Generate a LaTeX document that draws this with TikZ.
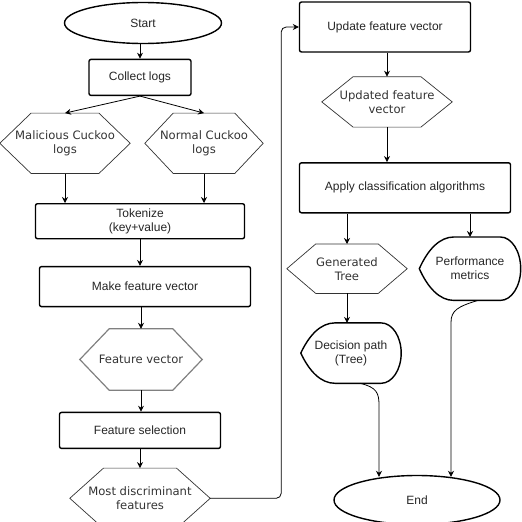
\documentclass[tikz,border=0pt]{standalone}
\usepackage{fontspec}
\setmainfont{Liberation Sans}
\newfontfamily\dejavu{DejaVu Sans}
\usetikzlibrary{shapes.geometric, arrows.meta, positioning, calc}
\tikzset{
    proc/.style={rectangle, draw, line width=1.4pt, rounded corners=2pt, fill=white, inner sep=0pt, align=center, text=black!85, font=\fontsize{12}{14}\selectfont},
    term/.style={ellipse, draw, line width=1.4pt, inner sep=0pt, text=black!85, font=\fontsize{12}{14}\selectfont},
    hexa/.style={rectangle, inner sep=0pt, align=center, text=black!80, font=\dejavu\fontsize{11.6}{14}\selectfont},
    disp/.style={rectangle, inner sep=0pt, align=center, text=black!85, font=\fontsize{12}{14}\selectfont},
    hexline/.style={draw=black!80, line width=0.7pt},
    displine/.style={draw, line width=1.4pt},
    arr/.style={-{Stealth[length=6pt, width=6pt]}, line width=0.8pt},
}
\newcommand{\hexshape}[2][]{\draw[hexline, #1] (#2.west) -- ($(#2.north west)!.24!(#2.north east)$) -- ($(#2.north west)!.76!(#2.north east)$) -- (#2.east) -- ($(#2.south west)!.76!(#2.south east)$) -- ($(#2.south west)!.24!(#2.south east)$) -- cycle;}
\newcommand{\dispshape}[1]{%
  \coordinate (#1-ta) at ($(#1.north west)!.14!(#1.north east)$);
  \coordinate (#1-ba) at ($(#1.south west)!.14!(#1.south east)$);
  \draw[displine] (#1.west) .. controls ($(#1.west)!.6!(#1-ta)$) and ($(#1.north west)!.2!(#1.north east)$) .. ($(#1.north west)!.34!(#1.north east)$)
    -- ($(#1.north west)!.8!(#1.north east)$) .. controls ($(#1.north west)!.91!(#1.north east)$) and ($(#1.north east)!.45!(#1.east)$) .. (#1.east)
    .. controls ($(#1.south east)!.45!(#1.east)$) and ($(#1.south west)!.91!(#1.south east)$) .. ($(#1.south west)!.8!(#1.south east)$)
    -- ($(#1.south west)!.34!(#1.south east)$) .. controls ($(#1.south west)!.2!(#1.south east)$) and ($(#1.west)!.6!(#1-ba)$) .. (#1.west) -- cycle;}

\begin{document}
\begin{tikzpicture}[x=1pt, y=1pt]
\useasboundingbox (0,0) rectangle (522,-522);

% Left column
\node[term, minimum width=157pt, minimum height=41pt] (start) at (143,-23) {Start};
\node[proc, minimum width=102pt, minimum height=36pt, below=14.5pt of start, xshift=-3pt] (collect) {Collect logs};
\node[hexa, minimum width=130pt, minimum height=60pt, below=17pt of collect, xshift=-75pt] (mal) {Malicious Cuckoo\\logs};
\node[hexa, minimum width=118pt, minimum height=60pt, below=17pt of collect, xshift=64pt] (norm) {Normal Cuckoo\\logs};
\node[proc, minimum width=209pt, minimum height=35pt, below=29.5pt of mal, xshift=75pt] (tok) {Tokenize\\(key+value)};
\node[proc, minimum width=211pt, minimum height=40pt, below=26.5pt of tok, xshift=5pt] (make) {Make feature vector};
\node[hexa, minimum width=122pt, minimum height=61pt, below=21.5pt of make, xshift=-4pt] (fv) {Feature vector};
\node[proc, minimum width=161pt, minimum height=36pt, below=21.5pt of fv, xshift=-1pt] (fsel) {Feature selection};
\node[hexa, minimum width=140pt, minimum height=60pt, below=19pt of fsel] (most) {Most discriminant\\features};

% Right column
\node[proc, minimum width=171pt, minimum height=50pt] (update) at (385,-27) {Update feature vector};
\node[hexa, minimum width=130pt, minimum height=50pt, below=24pt of update, xshift=2pt] (updated) {Updated feature\\vector};
\node[proc, minimum width=211pt, minimum height=50pt, below=35pt of updated, xshift=18pt] (apply) {Apply classification algorithms};
\node[hexa, minimum width=120pt, minimum height=49pt, below=30.5pt of apply, xshift=-58pt] (gen) {Generated\\Tree};
\node[disp, minimum width=101pt, minimum height=63pt, below=23.5pt of apply, xshift=65pt] (perf) {Performance\\metrics};
\node[disp, minimum width=100pt, minimum height=60pt, below=29.5pt of gen, xshift=4pt] (dec) {Decision path\\(Tree)};
\node[term, minimum width=166pt, minimum height=49pt, below=91.5pt of dec, xshift=66pt] (end) {End};

% Outlines
\hexshape{mal}
\hexshape{norm}
\hexshape[draw=gray, line width=1.2pt]{fv}
\hexshape{most}
\hexshape{updated}
\hexshape{gen}
\dispshape{perf}
\dispshape{dec}

% Arrows
\draw[arr] (start.south -| collect.north) -- (collect.north);
\draw[arr] (collect.south) -- (mal.north);
\draw[arr] (collect.south) -- (norm.north);
\draw[arr] (mal.south) -- (mal.south |- tok.north);
\draw[arr] (norm.south) -- (norm.south |- tok.north);
\draw[arr] (tok.south) -- (tok.south |- make.north);
\draw[arr] (make.south -| fv.north) -- (fv.north);
\draw[arr] (fv.south) -- (fv.south |- fsel.north);
\draw[arr] (fsel) -- (most);
\draw[arr, rounded corners=5pt] (most.east) -- ++(71,0) |- (update.west);
\draw[arr] (update.south -| updated.north) -- (updated.north);
\draw[arr] (updated.south) -- (updated.south |- apply.north);
\draw[arr] (gen.north |- apply.south) -- (gen.north);
\draw[arr] (perf.north |- apply.south) -- (perf.north);
\draw[arr] (gen.south) -- (gen.south |- dec.north);
\draw[arr] ([xshift=9pt]dec.south) .. controls +(17,-4) and +(0,12) .. ++(19,-22) -- ([xshift=-38pt, yshift=-2pt]end.north);
\draw[arr] ([xshift=8pt]perf.south) .. controls +(-20,-6) and +(0,12) .. ++(-27,-22) -- ([xshift=34pt, yshift=-2pt]end.north);

\end{tikzpicture}
\end{document}
